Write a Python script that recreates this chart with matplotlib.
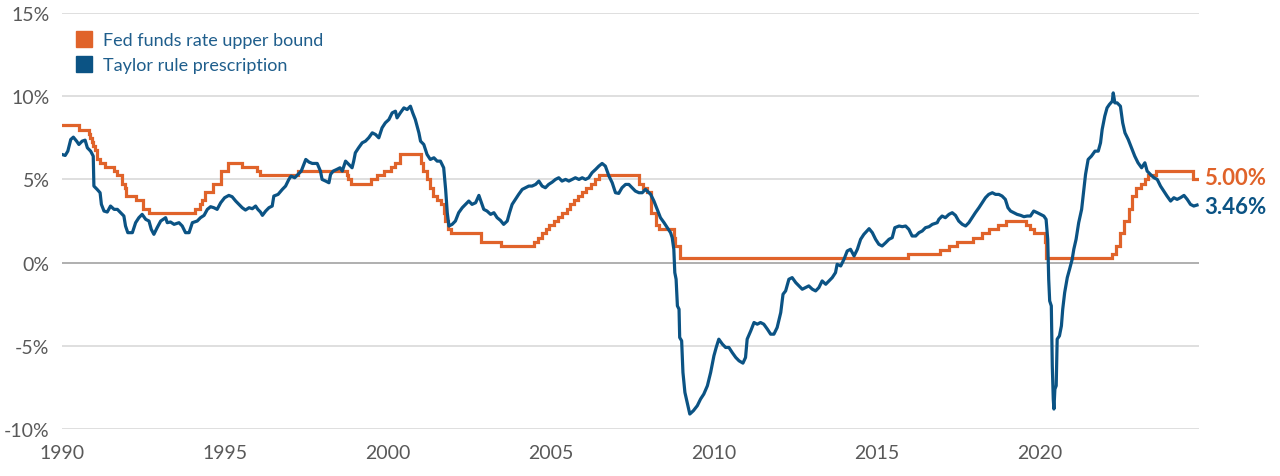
import matplotlib
matplotlib.use("Agg")
from matplotlib import pyplot as plt
from matplotlib.lines import Line2D

# Fed funds rate upper bound: change dates (decimal years) and levels (%)
fed_dates = [1990.00, 1990.53, 1990.83, 1990.87, 1990.93, 1990.96, 1991.02, 1991.08, 1991.18,
             1991.33, 1991.59, 1991.70, 1991.83, 1991.85, 1991.93, 1991.97, 1992.27, 1992.50,
             1992.68, 1994.09, 1994.22, 1994.29, 1994.38, 1994.62, 1994.87, 1995.08, 1995.51,
             1995.97, 1996.08, 1997.23, 1998.74, 1998.79, 1998.88, 1999.49, 1999.65, 1999.87,
             2000.09, 2000.22, 2000.37, 2001.01, 2001.08, 2001.21, 2001.30, 2001.37, 2001.49,
             2001.64, 2001.71, 2001.75, 2001.85, 2001.94, 2002.85, 2003.48, 2004.49, 2004.61,
             2004.72, 2004.86, 2004.95, 2005.09, 2005.22, 2005.33, 2005.49, 2005.60, 2005.72,
             2005.83, 2005.95, 2006.08, 2006.24, 2006.36, 2006.49, 2007.71, 2007.83, 2007.94,
             2008.06, 2008.08, 2008.21, 2008.33, 2008.77, 2008.82, 2008.96, 2015.96, 2016.95,
             2017.20, 2017.45, 2017.95, 2018.22, 2018.45, 2018.73, 2018.96, 2019.58, 2019.71,
             2019.83, 2020.17, 2020.20, 2022.21, 2022.34, 2022.45, 2022.57, 2022.72, 2022.84,
             2022.95, 2023.09, 2023.22, 2023.33, 2023.56, 2024.71, 2024.82]
fed_rates = [8.25, 8.00, 7.75, 7.50, 7.25, 7.00, 6.75, 6.25, 6.00,
             5.75, 5.50, 5.25, 5.00, 4.75, 4.50, 4.00, 3.75, 3.25,
             3.00, 3.25, 3.50, 3.75, 4.25, 4.75, 5.50, 6.00, 5.75,
             5.50, 5.25, 5.50, 5.25, 5.00, 4.75, 5.00, 5.25, 5.50,
             5.75, 6.00, 6.50, 6.00, 5.50, 5.00, 4.50, 4.00, 3.75,
             3.50, 3.00, 2.50, 2.00, 1.75, 1.25, 1.00, 1.25, 1.50,
             1.75, 2.00, 2.25, 2.50, 2.75, 3.00, 3.25, 3.50, 3.75,
             4.00, 4.25, 4.50, 4.75, 5.00, 5.25, 4.75, 4.50, 4.25,
             3.50, 3.00, 2.25, 2.00, 1.50, 1.00, 0.25, 0.50, 0.75,
             1.00, 1.25, 1.50, 1.75, 2.00, 2.25, 2.50, 2.25, 2.00,
             1.75, 1.25, 0.25, 0.50, 1.00, 1.75, 2.50, 3.25, 4.00,
             4.50, 4.75, 5.00, 5.25, 5.50, 5.00, 5.00]

# Taylor rule prescription
taylor_dates = [1990.00, 1990.10, 1990.18, 1990.27, 1990.35, 1990.45, 1990.52, 1990.62, 1990.71,
                1990.78, 1990.88, 1990.96, 1990.98, 1991.08, 1991.17, 1991.21, 1991.29, 1991.39,
                1991.49, 1991.60, 1991.70, 1991.80, 1991.90, 1991.95, 1992.02, 1992.16, 1992.26,
                1992.36, 1992.46, 1992.57, 1992.67, 1992.74, 1992.82, 1992.92, 1993.03, 1993.18,
                1993.23, 1993.33, 1993.44, 1993.59, 1993.69, 1993.79, 1993.90, 1994.00, 1994.15,
                1994.25, 1994.36, 1994.46, 1994.56, 1994.66, 1994.76, 1994.87, 1994.99, 1995.12,
                1995.22, 1995.33, 1995.43, 1995.53, 1995.63, 1995.74, 1995.84, 1995.94, 1996.01,
                1996.09, 1996.15, 1996.25, 1996.35, 1996.45, 1996.50, 1996.63, 1996.76, 1996.86,
                1996.96, 1997.03, 1997.14, 1997.24, 1997.34, 1997.42, 1997.48, 1997.58, 1997.68,
                1997.83, 1997.93, 1997.98, 1998.09, 1998.19, 1998.24, 1998.32, 1998.43, 1998.53,
                1998.60, 1998.70, 1998.80, 1998.90, 1998.95, 1999.00, 1999.10, 1999.21, 1999.31,
                1999.41, 1999.52, 1999.62, 1999.72, 1999.82, 1999.92, 2000.03, 2000.13, 2000.23,
                2000.28, 2000.38, 2000.49, 2000.59, 2000.69, 2000.76, 2000.84, 2000.95, 2001.00,
                2001.10, 2001.20, 2001.30, 2001.41, 2001.51, 2001.61, 2001.71, 2001.77, 2001.82,
                2001.87, 2001.97, 2002.07, 2002.17, 2002.28, 2002.38, 2002.48, 2002.58, 2002.69,
                2002.79, 2002.87, 2002.94, 2003.04, 2003.15, 2003.25, 2003.35, 2003.45, 2003.55,
                2003.66, 2003.73, 2003.81, 2003.91, 2004.01, 2004.12, 2004.22, 2004.32, 2004.42,
                2004.53, 2004.63, 2004.73, 2004.83, 2004.93, 2005.04, 2005.14, 2005.24, 2005.34,
                2005.45, 2005.55, 2005.65, 2005.75, 2005.86, 2005.96, 2006.06, 2006.16, 2006.26,
                2006.37, 2006.47, 2006.57, 2006.67, 2006.78, 2006.88, 2006.98, 2007.08, 2007.18,
                2007.29, 2007.39, 2007.49, 2007.59, 2007.70, 2007.80, 2007.90, 2008.06, 2008.16,
                2008.26, 2008.36, 2008.47, 2008.57, 2008.67, 2008.72, 2008.77, 2008.80, 2008.84,
                2008.88, 2008.93, 2008.95, 2009.01, 2009.05, 2009.11, 2009.18, 2009.26, 2009.37,
                2009.49, 2009.59, 2009.69, 2009.80, 2009.90, 2010.00, 2010.07, 2010.15, 2010.26,
                2010.36, 2010.46, 2010.56, 2010.67, 2010.77, 2010.89, 2010.97, 2011.02, 2011.13,
                2011.23, 2011.33, 2011.43, 2011.53, 2011.64, 2011.74, 2011.84, 2011.94, 2012.05,
                2012.12, 2012.20, 2012.30, 2012.40, 2012.51, 2012.61, 2012.71, 2012.81, 2012.91,
                2013.02, 2013.12, 2013.22, 2013.32, 2013.43, 2013.53, 2013.63, 2013.73, 2013.78,
                2013.89, 2013.99, 2014.09, 2014.19, 2014.30, 2014.40, 2014.50, 2014.60, 2014.76,
                2014.86, 2014.96, 2015.06, 2015.16, 2015.27, 2015.37, 2015.47, 2015.55, 2015.68,
                2015.78, 2015.88, 2015.98, 2016.08, 2016.19, 2016.29, 2016.39, 2016.49, 2016.60,
                2016.70, 2016.85, 2016.90, 2017.00, 2017.10, 2017.21, 2017.31, 2017.41, 2017.51,
                2017.62, 2017.72, 2017.82, 2017.92, 2018.02, 2018.13, 2018.23, 2018.33, 2018.43,
                2018.54, 2018.64, 2018.74, 2018.84, 2018.94, 2019.02, 2019.10, 2019.20, 2019.30,
                2019.41, 2019.51, 2019.61, 2019.71, 2019.81, 2019.92, 2020.02, 2020.12, 2020.19,
                2020.24, 2020.27, 2020.30, 2020.35, 2020.38, 2020.41, 2020.43, 2020.46, 2020.50,
                2020.53, 2020.60, 2020.66, 2020.70, 2020.76, 2020.84, 2020.91, 2020.99, 2021.04,
                2021.11, 2021.19, 2021.28, 2021.35, 2021.40, 2021.48, 2021.58, 2021.69, 2021.79,
                2021.86, 2021.91, 2021.99, 2022.06, 2022.13, 2022.22, 2022.25, 2022.30, 2022.37,
                2022.47, 2022.54, 2022.61, 2022.71, 2022.81, 2022.91, 2023.01, 2023.12, 2023.22,
                2023.29, 2023.39, 2023.50, 2023.60, 2023.70, 2023.80, 2023.90, 2024.01, 2024.11,
                2024.21, 2024.31, 2024.42, 2024.52, 2024.62, 2024.72, 2024.82]
taylor_rates = [6.5, 6.44, 6.7, 7.4, 7.54, 7.3, 7.1, 7.3, 7.36,
                6.9, 6.7, 6.4, 4.6, 4.4, 4.2, 3.5, 3.1, 3.04,
                3.4, 3.2, 3.2, 3.0, 2.8, 2.2, 1.8, 1.8, 2.4,
                2.7, 2.9, 2.6, 2.5, 2.0, 1.7, 2.1, 2.5, 2.7,
                2.4, 2.44, 2.3, 2.4, 2.2, 1.8, 1.8, 2.4, 2.5,
                2.7, 2.84, 3.2, 3.36, 3.3, 3.2, 3.6, 3.9, 4.04,
                3.96, 3.7, 3.5, 3.3, 3.16, 3.3, 3.24, 3.4, 3.2,
                3.04, 2.84, 3.1, 3.3, 3.4, 4.0, 4.1, 4.4, 4.6,
                5.0, 5.2, 5.1, 5.3, 5.5, 5.9, 6.2, 6.04, 5.96,
                5.96, 5.5, 5.0, 4.9, 4.8, 5.3, 5.5, 5.6, 5.7,
                5.5, 6.1, 5.9, 5.7, 6.1, 6.6, 6.9, 7.2, 7.3,
                7.5, 7.8, 7.7, 7.5, 8.1, 8.4, 8.6, 9.0, 9.1,
                8.7, 9.0, 9.3, 9.2, 9.4, 9.0, 8.6, 7.8, 7.3,
                7.1, 6.5, 6.2, 6.3, 6.1, 6.1, 5.7, 4.4, 3.0,
                2.2, 2.3, 2.5, 3.0, 3.3, 3.5, 3.7, 3.5, 3.6,
                4.04, 3.6, 3.2, 3.1, 2.9, 3.0, 2.7, 2.54, 2.3,
                2.5, 3.0, 3.5, 3.8, 4.1, 4.4, 4.5, 4.6, 4.6,
                4.7, 4.9, 4.6, 4.5, 4.7, 4.84, 5.0, 5.1, 4.9,
                5.0, 4.9, 5.0, 5.1, 5.0, 5.1, 5.0, 5.1, 5.4,
                5.6, 5.8, 5.96, 5.8, 5.2, 4.8, 4.2, 4.16, 4.5,
                4.7, 4.7, 4.5, 4.3, 4.2, 4.2, 4.4, 4.1, 3.7,
                3.2, 2.7, 2.4, 2.1, 1.8, 1.5, 0.8, -0.6, -1.0,
                -2.6, -2.8, -4.5, -4.7, -6.6, -7.8, -8.4, -9.1, -8.9,
                -8.6, -8.2, -7.9, -7.4, -6.6, -5.6, -5.1, -4.6, -4.9,
                -5.1, -5.1, -5.4, -5.7, -5.9, -6.04, -5.7, -4.6, -4.1,
                -3.6, -3.7, -3.6, -3.7, -4.0, -4.3, -4.3, -3.9, -3.0,
                -1.9, -1.7, -1.0, -0.9, -1.2, -1.4, -1.6, -1.5, -1.4,
                -1.6, -1.7, -1.5, -1.1, -1.3, -1.1, -0.9, -0.6, -0.1,
                -0.2, 0.2, 0.7, 0.8, 0.4, 0.8, 1.4, 1.7, 2.04,
                1.8, 1.4, 1.1, 1.0, 1.2, 1.4, 1.5, 2.1, 2.2,
                2.16, 2.2, 2.0, 1.6, 1.6, 1.8, 1.9, 2.1, 2.16,
                2.3, 2.4, 2.6, 2.8, 2.7, 2.9, 3.0, 2.84, 2.5,
                2.3, 2.2, 2.4, 2.7, 3.0, 3.3, 3.6, 3.9, 4.1,
                4.2, 4.1, 4.1, 4.0, 3.8, 3.3, 3.1, 3.0, 2.9,
                2.84, 2.76, 2.8, 2.8, 3.1, 3.0, 2.9, 2.8, 2.6,
                1.4, -1.0, -2.3, -2.6, -6.2, -8.2, -8.8, -7.6, -7.4,
                -4.6, -4.4, -3.8, -2.8, -1.8, -0.9, -0.4, 0.2, 0.8,
                1.4, 2.4, 3.2, 4.4, 5.3, 6.2, 6.4, 6.7, 6.7,
                7.2, 8.0, 8.8, 9.3, 9.5, 9.7, 10.2, 9.6, 9.6,
                9.4, 8.4, 7.8, 7.4, 6.9, 6.4, 6.0, 5.7, 6.0,
                5.5, 5.3, 5.1, 5.0, 4.6, 4.3, 4.0, 3.7, 3.9,
                3.8, 3.9, 4.04, 3.8, 3.5, 3.4, 3.46]

y_ticks = [-10, -5, 0, 5, 10, 15]
x_ticks = [1990, 1995, 2000, 2005, 2010, 2015, 2020]
labels = ["Fed funds rate upper bound", "Taylor rule prescription"]

orange = "#E0632A"
blue = "#0B5384"
grey_text = "#595959"

plt.rcParams['font.family'] = ['Lato', 'DejaVu Sans']

fig = plt.figure(figsize=(12.8, 4.77), dpi=100)
ax = fig.add_axes([0.0484, 0.0985, 0.8883, 0.8721])

for y in y_ticks:
    if y == 0:
        ax.axhline(y, color="#9a9a9a", lw=1.1, zorder=1)
    else:
        ax.axhline(y, color="#d6d6d6", lw=1.1, zorder=1)

ax.plot(fed_dates, fed_rates, drawstyle="steps-post", color=orange, lw=2.3, zorder=3,
        solid_joinstyle="miter")
ax.plot(taylor_dates, taylor_rates, color=blue, lw=2.3, zorder=4)

ax.set_xlim(1990, 2024.88)
ax.set_ylim(-10, 15)
ax.set_yticks(y_ticks)
ax.set_yticklabels([f"{v}%" for v in y_ticks])
ax.set_xticks(x_ticks)
ax.set_xticklabels([str(v) for v in x_ticks])
ax.tick_params(axis="both", length=0, labelsize=14, colors=grey_text)
ax.tick_params(axis="y", pad=9)
ax.tick_params(axis="x", pad=11)
for s in ax.spines.values():
    s.set_visible(False)

# end labels
ax.annotate(f"{fed_rates[-1]:.2f}%", xy=(1.0, 5.1), xycoords=("axes fraction", "data"),
            xytext=(4, 0), textcoords="offset points", ha="left", va="center",
            color=orange, fontsize=16, fontweight="bold")
ax.annotate(f"{taylor_rates[-1]:.2f}%", xy=(1.0, 3.35), xycoords=("axes fraction", "data"),
            xytext=(4, 0), textcoords="offset points", ha="left", va="center",
            color=blue, fontsize=16, fontweight="bold")

handles = [Line2D([], [], marker="s", linestyle="none", markersize=12, color=orange),
           Line2D([], [], marker="s", linestyle="none", markersize=12, color=blue)]
leg = ax.legend(handles, labels, loc="upper left", bbox_to_anchor=(0.0, 0.985),
                frameon=False, fontsize=13, handlelength=1.0, handletextpad=0.55,
                labelspacing=0.5, borderaxespad=0.3, labelcolor="#1F5E8C")

fig.savefig("out.png", dpi=100)
